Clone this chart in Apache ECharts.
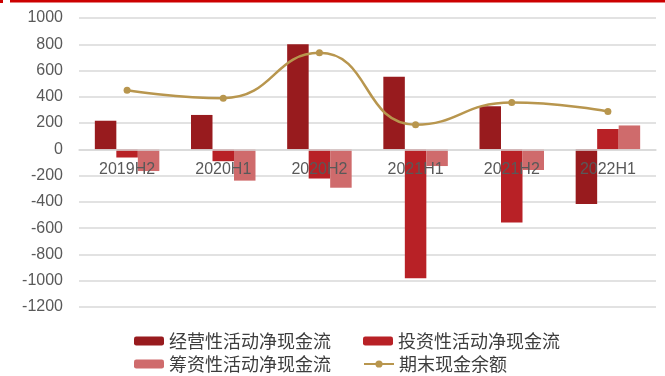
<!DOCTYPE html>
<html>
<head>
<meta charset="utf-8">
<script src="https://cdn.jsdelivr.net/npm/echarts@6/dist/echarts.min.js"></script>
<style>
html,body{margin:0;padding:0;background:#fff;}
#c{width:665px;height:376px;}
</style>
</head>
<body>
<div id="c"></div>
<script>
const categories = ['2019H2','2020H1','2020H2','2021H1','2021H2','2022H1'];
const operating = [218, 262, 801, 553, 328, -415];
const investing = [-62, -90, -222, -982, -557, 155];
const financing = [-165, -238, -292, -127, -157, 182];
const cashEnd = [450, 390, 735, 188, 357, 289];
const seriesNames = ['经营性活动净现金流','投资性活动净现金流','筹资性活动净现金流','期末现金余额'];
const yMin = -1200, yMax = 1000;

const W = 665, H = 376, gTop = 18, gBottom = 69;
const gridH = H - gTop - gBottom;
const zeroOffset = -gridH * (0 - yMin) / (yMax - yMin);

const chart = echarts.init(document.getElementById('c'));
const legendText = {fontSize: 18, color: '#3d3d3d', fontFamily: '"Noto Sans CJK SC", sans-serif'};
chart.setOption({
  animation: false,
  backgroundColor: '#ffffff',
  graphic: [
    {type: 'rect', shape: {x: 10, y: 0, width: 655, height: 2.5}, style: {fill: '#CC0000'}},
    {type: 'rect', shape: {x: 0, y: 0, width: 3, height: 3}, style: {fill: '#CC0000'}}
  ],
  grid: {left: 79, right: 9, top: gTop, bottom: gBottom, containLabel: false},
  legend: [
    {data: [seriesNames[0], seriesNames[1]], left: 129, top: 327, itemWidth: 30, itemHeight: 9, itemGap: 32, textStyle: legendText},
    {data: [seriesNames[2], seriesNames[3]], left: 129, top: 350, itemWidth: 30, itemHeight: 9, itemGap: 32, textStyle: legendText}
  ],
  xAxis: {
    type: 'category',
    data: categories,
    offset: zeroOffset,
    axisLine: {show: true, onZero: false, lineStyle: {color: '#d9d9d9', width: 1.5}},
    axisTick: {show: false},
    axisLabel: {fontSize: 16, color: '#595959', margin: 12, fontFamily: '"Liberation Sans", Arial, sans-serif'},
    z: 3
  },
  yAxis: {
    type: 'value',
    min: yMin, max: yMax, interval: 200,
    axisLine: {show: false},
    axisTick: {show: false},
    axisLabel: {fontSize: 16, color: '#595959', margin: 16, fontFamily: '"Liberation Sans", Arial, sans-serif',
      formatter: function (v) { return String(v); }},
    splitLine: {lineStyle: {color: '#d9d9d9', width: 1.5}}
  },
  series: [
    {name: seriesNames[0], type: 'bar', data: operating, barWidth: 21.5, barGap: '0%', itemStyle: {color: '#981B1E'}},
    {name: seriesNames[1], type: 'bar', data: investing, barWidth: 21.5, barGap: '0%', itemStyle: {color: '#B82126'}},
    {name: seriesNames[2], type: 'bar', data: financing, barWidth: 21.5, barGap: '0%', itemStyle: {color: '#CF6B6C'}},
    {name: seriesNames[3], type: 'line', data: cashEnd, smooth: 0.5, symbol: 'circle', symbolSize: 7,
     lineStyle: {color: '#B8964E', width: 2.5}, itemStyle: {color: '#B8964E'}, z: 5}
  ]
});
</script>
</body>
</html>
